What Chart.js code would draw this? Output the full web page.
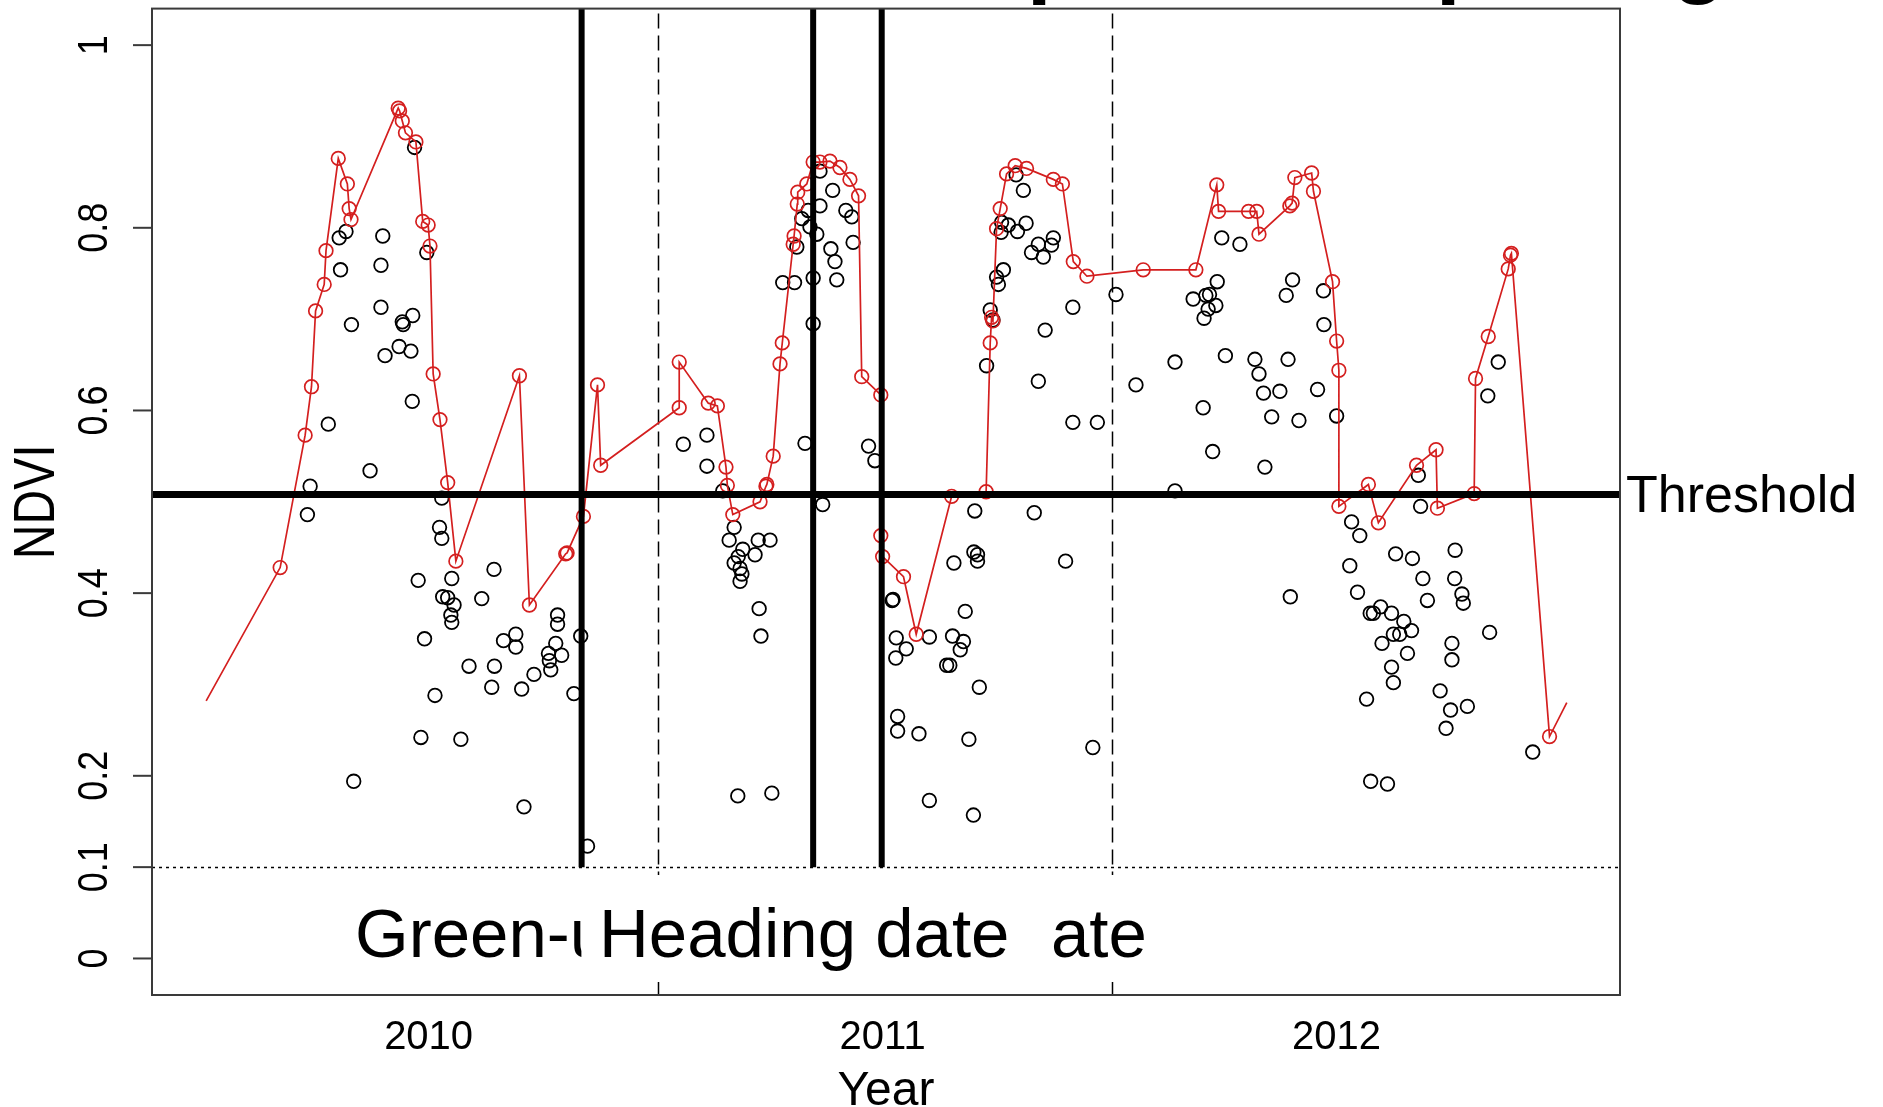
<!DOCTYPE html>
<html>
<head>
<meta charset="utf-8">
<title>NDVI time series</title>
<script src="https://cdn.jsdelivr.net/npm/chart.js@4.4.1/dist/chart.umd.min.js"></script>
<style>
  html, body { margin: 0; padding: 0; background: #fff; }
  canvas { display: block; }
</style>
</head>
<body>
<canvas id="ndvi-chart" width="1883" height="1107"></canvas>
<script>
// raw NDVI observations (black circles), x in decimal years
var obsYear = [
  2009.803, 2009.818, 2009.899, 2009.806, 2009.895, 2009.895, 2009.830, 2009.965, 2009.944, 2009.942,
  2009.935, 2009.904, 2009.961, 2009.964, 2009.779, 2009.871, 2009.739, 2009.733, 2009.969, 2009.996,
  2010.029, 2010.024, 2010.029, 2009.977, 2010.051, 2010.144, 2010.031, 2010.042, 2010.056, 2010.117,
  2010.049, 2010.051, 2010.284, 2010.284, 2010.335, 2009.991, 2010.165, 2010.192, 2010.192, 2010.280,
  2010.264, 2010.293, 2010.266, 2010.269, 2010.089, 2010.145, 2010.232, 2010.139, 2010.205, 2010.320,
  2010.014, 2009.983, 2010.071, 2009.835, 2010.210, 2010.350,
  2010.862, 2010.890, 2010.862, 2010.836, 2010.822, 2010.840, 2010.855, 2010.919, 2010.932, 2010.935,
  2010.886, 2010.895, 2010.847, 2010.899, 2010.780, 2010.806, 2010.811, 2010.847, 2010.561, 2010.613,
  2010.613, 2010.648, 2010.829, 2010.969, 2010.983,
  2011.294, 2011.310, 2011.262, 2011.277, 2011.316, 2011.261, 2011.297, 2011.343, 2011.376, 2011.372,
  2011.328, 2011.354, 2011.266, 2011.251, 2011.255, 2011.237, 2011.243, 2011.229, 2011.419, 2011.358,
  2011.343, 2011.419, 2011.473, 2011.514,
  2010.868, 2010.673, 2010.662, 2010.726, 2010.752, 2010.692, 2010.719, 2010.682, 2010.673, 2010.686,
  2010.690, 2010.686, 2010.728, 2010.732, 2010.681, 2010.756,
  2011.203, 2011.334, 2011.201, 2011.209, 2011.209, 2011.157, 2011.403, 2011.021, 2011.023, 2011.182,
  2011.030, 2011.103, 2011.154, 2011.178, 2011.171, 2011.052, 2011.029, 2011.141, 2011.148, 2011.213,
  2011.033, 2011.033, 2011.080, 2011.190, 2011.463, 2011.103, 2011.200,
  2011.747, 2011.787, 2011.737, 2011.684, 2011.712, 2011.720, 2011.734, 2011.717, 2011.708, 2011.903,
  2011.889, 2011.971, 2011.972, 2011.644, 2011.755, 2011.820, 2011.893, 2011.829, 2011.558, 2011.839,
  2011.875, 2011.958, 2011.706, 2011.857, 2011.917, 2012.000, 2011.727, 2011.842, 2011.644, 2012.180,
  2012.356, 2012.333,
  2012.185, 2012.033, 2012.051, 2012.130, 2012.167, 2012.261, 2012.029, 2012.190, 2012.260, 2012.276,
  2012.279, 2012.200, 2012.046, 2011.898, 2012.074, 2012.081, 2012.097, 2012.121, 2012.148, 2012.165,
  2012.125, 2012.139, 2012.100, 2012.156, 2012.254, 2012.254, 2012.337, 2012.121, 2012.125, 2012.066,
  2012.228, 2012.251, 2012.288, 2012.241, 2012.432, 2012.075, 2012.112
];
var obsNdvi = [
  0.789, 0.796, 0.791, 0.754, 0.759, 0.713, 0.694, 0.704, 0.694, 0.697,
  0.670, 0.660, 0.665, 0.610, 0.585, 0.534, 0.517, 0.486, 0.888, 0.773,
  0.504, 0.472, 0.460, 0.414, 0.416, 0.426, 0.396, 0.395, 0.387, 0.394,
  0.376, 0.368, 0.376, 0.366, 0.353, 0.350, 0.348, 0.355, 0.341, 0.345,
  0.334, 0.332, 0.326, 0.316, 0.320, 0.320, 0.311, 0.297, 0.295, 0.290,
  0.288, 0.242, 0.240, 0.194, 0.166, 0.123,
  0.862, 0.841, 0.824, 0.819, 0.810, 0.801, 0.793, 0.819, 0.812, 0.784,
  0.777, 0.763, 0.745, 0.743, 0.740, 0.740, 0.779, 0.695, 0.563, 0.573,
  0.539, 0.512, 0.564, 0.561, 0.545,
  0.858, 0.841, 0.806, 0.803, 0.805, 0.795, 0.796, 0.782, 0.789, 0.781,
  0.773, 0.768, 0.754, 0.746, 0.738, 0.710, 0.699, 0.649, 0.713, 0.688,
  0.632, 0.587, 0.587, 0.727,
  0.497, 0.472, 0.458, 0.458, 0.458, 0.448, 0.442, 0.440, 0.433, 0.427,
  0.421, 0.413, 0.383, 0.353, 0.178, 0.181,
  0.490, 0.488, 0.445, 0.442, 0.435, 0.433, 0.435, 0.392, 0.393, 0.380,
  0.351, 0.352, 0.353, 0.347, 0.338, 0.339, 0.329, 0.321, 0.321, 0.297,
  0.265, 0.249, 0.246, 0.240, 0.231, 0.173, 0.157,
  0.789, 0.782, 0.741, 0.722, 0.726, 0.727, 0.715, 0.711, 0.701, 0.743,
  0.726, 0.731, 0.694, 0.653, 0.660, 0.656, 0.656, 0.640, 0.628, 0.619,
  0.621, 0.623, 0.603, 0.593, 0.589, 0.594, 0.555, 0.538, 0.512, 0.529,
  0.653, 0.616,
  0.495, 0.478, 0.463, 0.443, 0.438, 0.447, 0.430, 0.416, 0.416, 0.399,
  0.389, 0.392, 0.401, 0.396, 0.378, 0.378, 0.385, 0.378, 0.369, 0.359,
  0.355, 0.355, 0.345, 0.334, 0.345, 0.327, 0.357, 0.319, 0.302, 0.284,
  0.293, 0.272, 0.276, 0.252, 0.226, 0.194, 0.191
];

// filtered NDVI series (red line with circles)
var fitYear = [
  2009.510, 2009.673, 2009.728, 2009.742, 2009.751, 2009.770, 2009.774, 2009.801, 2009.821, 2009.825,
  2009.829, 2009.933, 2009.936, 2009.942, 2009.949, 2009.972, 2009.987, 2009.999, 2010.003, 2010.010,
  2010.025, 2010.042, 2010.060, 2010.200, 2010.222, 2010.302, 2010.305, 2010.341, 2010.372, 2010.379,
  2010.552, 2010.552, 2010.616, 2010.636, 2010.655, 2010.658, 2010.670, 2010.730, 2010.743, 2010.745,
  2010.759, 2010.774, 2010.779, 2010.803, 2010.805, 2010.812, 2010.813, 2010.833, 2010.847, 2010.862,
  2010.884, 2010.906, 2010.928, 2010.947, 2010.954, 2010.996, 2010.996, 2011.000, 2011.046, 2011.074,
  2011.152, 2011.228, 2011.237, 2011.240, 2011.243, 2011.251, 2011.259, 2011.273, 2011.292, 2011.317,
  2011.376, 2011.396, 2011.420, 2011.450, 2011.574, 2011.690, 2011.736, 2011.740, 2011.806, 2011.824,
  2011.829, 2011.897, 2011.902, 2011.908, 2011.945, 2011.949, 2011.991, 2012.000, 2012.005, 2012.005,
  2012.070, 2012.092, 2012.176, 2012.219, 2012.222, 2012.303, 2012.306, 2012.334, 2012.378, 2012.383,
  2012.385, 2012.469, 2012.507
];
var fitNdvi = [
  0.282, 0.428, 0.573, 0.626, 0.709, 0.738, 0.775, 0.876, 0.848, 0.821,
  0.809, 0.931, 0.928, 0.917, 0.904, 0.894, 0.807, 0.803, 0.780, 0.640,
  0.590, 0.521, 0.435, 0.638, 0.387, 0.443, 0.444, 0.484, 0.628, 0.540,
  0.603, 0.653, 0.608, 0.605, 0.538, 0.518, 0.486, 0.500, 0.517, 0.519,
  0.550, 0.651, 0.674, 0.782, 0.791, 0.826, 0.839, 0.848, 0.872, 0.872,
  0.873, 0.866, 0.853, 0.835, 0.637, 0.617, 0.463, 0.440, 0.418, 0.355,
  0.506, 0.511, 0.674, 0.702, 0.698, 0.799, 0.821, 0.859, 0.868, 0.865,
  0.853, 0.848, 0.763, 0.747, 0.754, 0.754, 0.847, 0.818, 0.818, 0.818,
  0.793, 0.824, 0.827, 0.855, 0.860, 0.840, 0.741, 0.676, 0.644, 0.495,
  0.519, 0.477, 0.540, 0.557, 0.493, 0.509, 0.635, 0.681, 0.755, 0.770,
  0.772, 0.243, 0.280
];

var yTicks = [0, 0.1, 0.2, 0.4, 0.6, 0.8, 1];
var yTickLabels = ["0", "0.1", "0.2", "0.4", "0.6", "0.8", "1"];
var xTicks = [2010, 2011, 2012];
var xTickLabels = ["2010", "2011", "2012"];

var threshold = 0.508;
var minNdvi = 0.1;
var seasonBreaks = [2010.506, 2011.505];
// green-up, heading, maturity (2010 season)
var phenoDates = [2010.337, 2010.847, 2010.998];

var red = "#d41f1f";
var boxColor = "#3a3a3a";
var font = "'Liberation Sans', Arial, sans-serif";

function rotatedText(c, txt, x, y, size, stretch) {
    c.save();
    c.translate(x, y);
    c.rotate(-Math.PI / 2);
    c.scale(1, stretch);
    c.font = size + "px " + font;
    c.textAlign = "center";
    c.textBaseline = "alphabetic";
    c.fillText(txt, 0, 0);
    c.restore();
}

var rPlot = {
    id: "rPlot",
    beforeDatasetsDraw: function (chart) {
        var c = chart.ctx, a = chart.chartArea;
        var xs = chart.scales.x, ys = chart.scales.y;
        c.save();
        c.strokeStyle = "#000";
        c.lineWidth = 1.5;
        c.setLineDash([15, 7]);
        seasonBreaks.forEach(function (d) {
            var px = Math.round(xs.getPixelForValue(d)) + 0.5;
            c.beginPath();
            c.moveTo(px, a.top + 5);
            c.lineTo(px, a.bottom);
            c.stroke();
        });
        c.setLineDash([3, 4]);
        var py = Math.round(ys.getPixelForValue(minNdvi)) + 0.5;
        c.beginPath();
        c.moveTo(a.left, py);
        c.lineTo(a.right, py);
        c.stroke();
        c.restore();
    },
    afterDatasetsDraw: function (chart) {
        var c = chart.ctx, a = chart.chartArea;
        var xs = chart.scales.x, ys = chart.scales.y;
        c.save();
        c.strokeStyle = "#000";

        // threshold
        var ty = ys.getPixelForValue(threshold);
        c.lineWidth = 7;
        c.beginPath();
        c.moveTo(a.left, ty);
        c.lineTo(a.right, ty);
        c.stroke();

        // phenology dates
        var bottomY = ys.getPixelForValue(minNdvi);
        c.lineWidth = 6;
        phenoDates.forEach(function (d) {
            var px = xs.getPixelForValue(d);
            c.beginPath();
            c.moveTo(px, bottomY);
            c.lineTo(px, a.top);
            c.stroke();
        });

        // box
        c.lineWidth = 2;
        c.strokeStyle = boxColor;
        c.strokeRect(a.left, a.top, a.right - a.left, a.bottom - a.top);

        // y axis ticks and labels
        c.fillStyle = "#000";
        yTicks.forEach(function (v, i) {
            var py = ys.getPixelForValue(v);
            c.beginPath();
            c.moveTo(a.left - 19, py);
            c.lineTo(a.left, py);
            c.stroke();
            rotatedText(c, yTickLabels[i], a.left - 45, py, 36, 1.2);
        });

        // x labels
        c.font = "40px " + font;
        c.textAlign = "center";
        c.textBaseline = "alphabetic";
        xTicks.forEach(function (v, i) {
            c.fillText(xTickLabels[i], xs.getPixelForValue(v), 1049);
        });

        // axis titles
        c.font = "48px " + font;
        c.fillText("Year", (a.left + a.right) / 2, 1105);
        rotatedText(c, "NDVI", 54, (a.top + a.bottom) / 2, 48, 1.18);
        c.restore();
    },
    afterDraw: function (chart) {
        var c = chart.ctx, a = chart.chartArea;
        var xs = chart.scales.x, ys = chart.scales.y;
        var gx = xs.getPixelForValue(phenoDates[0]);
        c.save();
        c.fillStyle = "#000";
        c.textBaseline = "alphabetic";
        c.textAlign = "left";

        c.font = "52px " + font;
        c.fillText("Threshold", a.right + 6, ys.getPixelForValue(threshold) + 18);

        // text boxes at the bottom of the plot
        c.font = "69px " + font;
        c.save();
        c.beginPath();
        c.rect(0, 0, gx, chart.height);
        c.clip();
        c.fillText("Green-up date", 355, 957);
        c.restore();
        c.fillStyle = "#fff";
        c.fillRect(gx, 875, 1160 - gx, 107);
        c.fillStyle = "#000";
        c.fillText("Heading date", 599, 957);
        c.fillText("ate", 1051, 957);

        // cut-off title above the figure
        c.font = "bold 88px " + font;
        c.fillText("p", 1027, -13.5);
        c.fillText("p", 1436, -13.5);
        c.fillText("g", 1672, -13.5);
        c.restore();
    }
};

var obsPoints = obsYear.map(function (d, i) { return { x: d, y: obsNdvi[i] }; });
var fitPoints = fitYear.map(function (d, i) { return { x: d, y: fitNdvi[i] }; });

var ctx = document.getElementById("ndvi-chart").getContext("2d");
var ndviChart = new Chart(ctx, {
    type: "scatter",
    data: {
        datasets: [{
            label: "Filtered NDVI",
            data: fitPoints,
            showLine: true,
            borderColor: red,
            borderWidth: 1.7,
            pointStyle: "circle",
            pointRadius: function (p) {
                return (p.dataIndex === 0 || p.dataIndex === fitPoints.length - 1) ? 0 : 6.8;
            },
            pointBorderColor: red,
            pointBackgroundColor: "rgba(0,0,0,0)",
            pointBorderWidth: 1.7,
            order: 0
        }, {
            label: "NDVI",
            data: obsPoints,
            pointStyle: "circle",
            pointRadius: 6.8,
            pointBorderColor: "#000",
            pointBackgroundColor: "rgba(0,0,0,0)",
            pointBorderWidth: 1.8,
            order: 1
        }]
    },
    options: {
        responsive: false,
        animation: false,
        events: [],
        layout: {
            padding: { left: 152, top: 6.5, right: 263, bottom: 112 }
        },
        plugins: {
            legend: { display: false },
            tooltip: { enabled: false }
        },
        scales: {
            x: { type: "linear", min: 2009.3907, max: 2012.6242, display: false },
            y: { type: "linear", min: -0.04, max: 1.04, display: false }
        }
    },
    plugins: [rPlot]
});
</script>
</body>
</html>
